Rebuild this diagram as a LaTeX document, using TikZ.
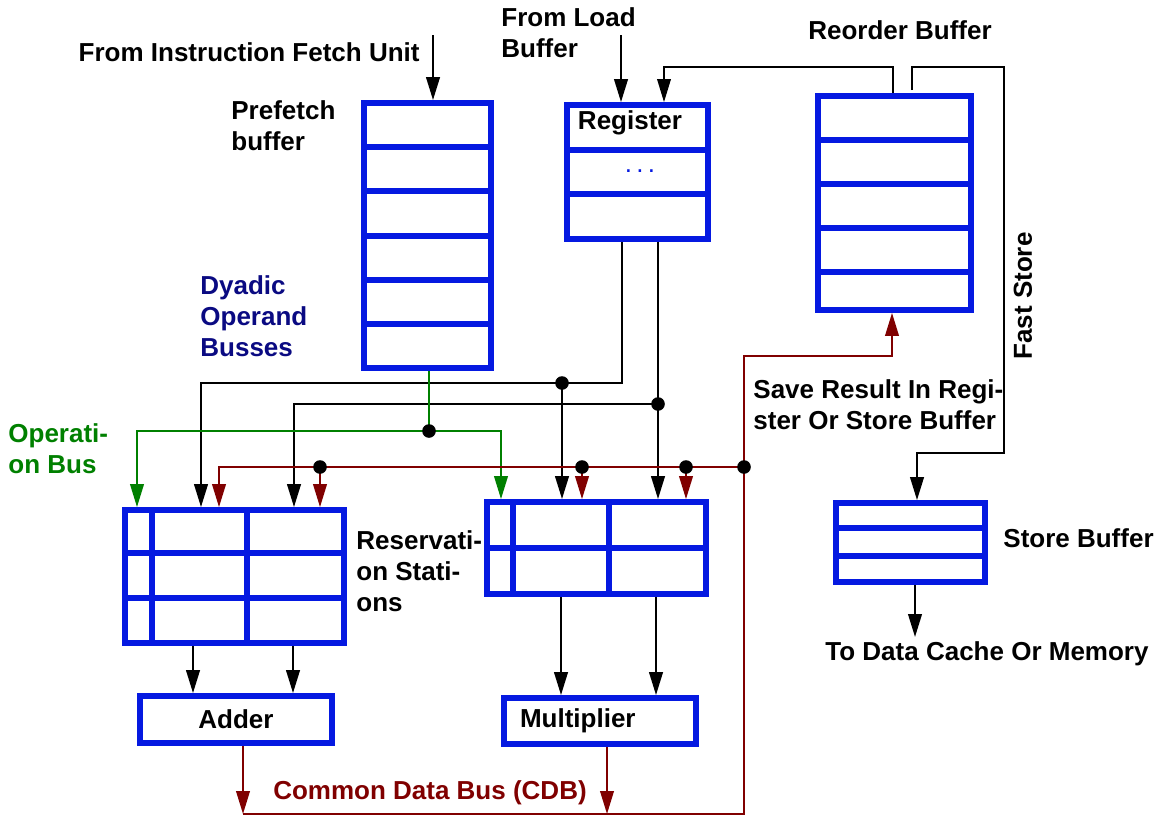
\documentclass[tikz,border=0pt]{standalone}
\usepackage{fontspec}
\setmainfont{Liberation Sans}
\usetikzlibrary{arrows.meta}
\definecolor{bufblue}{RGB}{5,25,225}
\definecolor{opgreen}{RGB}{0,128,0}
\definecolor{cdbred}{RGB}{128,0,0}
\definecolor{busnavy}{RGB}{10,10,130}
\begin{document}
\begin{tikzpicture}[x=0.5pt, y=-0.5pt,
  buf/.style={draw=bufblue, line width=2.9pt, inner sep=0pt},
  div/.style={draw=bufblue, line width=2.9pt},
  bus/.style={line width=1.1pt, -{Triangle[length=11.5pt,width=6.8pt]}},
  thinbus/.style={bus, line width=0.8pt},
  opbus/.style={bus, draw=opgreen, line width=1pt},
  cdbus/.style={bus, draw=cdbred, line width=1pt},
  lbl/.style={font=\fontsize{13}{15.5}\selectfont\bfseries, inner sep=0pt, align=left},
  dot/.style={circle, fill=black, inner sep=0pt, minimum size=6.8pt}
]
\useasboundingbox (0,0) rectangle (1155,816);

% Buffers
\node[buf, minimum width=63.5pt, minimum height=132.5pt] (pf) at (427.5,235.5) {};
\foreach \y in {147,191,236,280,324}
  \draw[div] (pf.west |- 0,\y) -- (pf.east |- 0,\y);
\node[buf, minimum width=70.5pt, minimum height=67pt] (reg) at (637.5,172) {};
\foreach \y in {150,194}
  \draw[div] (reg.west |- 0,\y) -- (reg.east |- 0,\y);
\node[buf, minimum width=76.5pt, minimum height=107pt] (rob) at (894.5,203) {};
\foreach \y in {140,184,228,272}
  \draw[div] (rob.west |- 0,\y) -- (rob.east |- 0,\y);
\node[buf, minimum width=74.5pt, minimum height=39.5pt] (sb) at (910.5,542.5) {};
\foreach \y in {528,556}
  \draw[div] (sb.west |- 0,\y) -- (sb.east |- 0,\y);

% Reservation stations
\node[buf, minimum width=109.5pt, minimum height=66.5pt] (rsa) at (234.5,576.5) {};
\foreach \x in {152,247}
  \draw[div] (\x,0 |- rsa.north) -- (\x,0 |- rsa.south);
\foreach \y in {553,598}
  \draw[div] (rsa.west |- 0,\y) -- (rsa.east |- 0,\y);
\node[buf, minimum width=109.5pt, minimum height=46pt] (rsm) at (596.5,548) {};
\foreach \x in {513,609}
  \draw[div] (\x,0 |- rsm.north) -- (\x,0 |- rsm.south);
\draw[div] (rsm.west |- 0,548) -- (rsm.east |- 0,548);

% Functional units
\node[buf, lbl, minimum width=96pt, minimum height=23.5pt] (add) at (236,719.5) {Adder};
\node[buf, lbl, minimum width=96pt, minimum height=23pt, text width=80pt] (mul) at (600,721) {Multiplier};

% Labels
\node[lbl, anchor=east] (ifutxt) at (420,52) {From Instruction Fetch Unit};
\node[lbl, anchor=west] (pftxt) at (231,126) {Prefetch\\buffer};
\node[lbl, anchor=west] (ldtxt) at (501,33) {From Load\\Buffer};
\node[lbl] (robtxt) at (900,30) {Reorder Buffer};
\node[lbl] (regtxt) at (630,123) {Register};
\node[font=\fontsize{13}{15.5}\selectfont, text=bufblue, inner sep=0pt] (regdots) at (640,171) {.\,.\,.};
\node[lbl, anchor=west, text=busnavy] (dyadtxt) at (200,316) {Dyadic\\Operand\\Busses};
\node[lbl, anchor=west, text=opgreen] (optxt) at (8,449) {Operati-\\on Bus};
\node[lbl, anchor=west] (rstxt) at (356,571) {Reservati-\\on Stati-\\ons};
\node[lbl, anchor=west] (savetxt) at (753,405) {Save Result In Regi-\\ster Or Store Buffer};
\node[lbl, rotate=90] (fstxt) at (1023,296) {Fast Store};
\node[lbl, anchor=west] (sbtxt) at (1003,538) {Store Buffer};
\node[lbl, anchor=west] (memtxt) at (825,654) {To Data Cache Or Memory};
\node[lbl, text=cdbred] (cdbtxt) at (430,793) {Common Data Bus (CDB)};

% Inputs from fetch unit and load buffer
\coordinate (ifu) at (433,35);
\draw[bus] (ifu) -- (ifu |- pf.north);
\coordinate (ldb) at (621,35);
\draw[bus] (ldb) -- (ldb |- reg.north);

% Reorder buffer back to register, fast store to store buffer
\coordinate (rtap) at (893,67);
\coordinate (rin) at (664,67);
\draw[thinbus] (rtap |- rob.north) -- (rtap) -- (rin) -- (rin |- reg.north);
\coordinate (fs0) at (912,90);
\coordinate (fs1) at (1004,67);
\coordinate (fs2) at (917,453);
\draw[bus] (fs0) |- (fs1) |- (fs2) -- (fs2 |- sb.north);
\coordinate (mem) at (915,637);
\draw[bus] (mem |- sb.south) -- (mem);

% Dyadic operand busses
\coordinate (o1) at (622,383);
\coordinate (o1j) at (562,383);
\coordinate (o1l) at (201,383);
\draw[bus] (o1 |- reg.south) -- (o1) -- (o1l) -- (o1l |- rsa.north);
\draw[bus] (o1j) -- (o1j |- rsm.north);
\node[dot] at (o1j) {};
\coordinate (o2) at (658,404);
\coordinate (o2l) at (294,404);
\draw[bus] (o2 |- reg.south) -- (o2 |- rsm.north);
\draw[bus] (o2) -- (o2l) -- (o2l |- rsa.north);
\node[dot] at (o2) {};

% Operation bus
\coordinate (op) at (429,431);
\coordinate (opl) at (137,431);
\coordinate (opr) at (501,431);
\draw[opbus, -] (op |- pf.south) -- (op);
\draw[opbus] (op) -- (opl) -- (opl |- rsa.north);
\draw[opbus] (op) -- (opr) -- (opr |- rsm.north);
\node[dot] at (op) {};

% Common data bus
\coordinate (cd) at (744,467);
\coordinate (cdl) at (219,467);
\draw[cdbus] (cd) -- (cdl) -- (cdl |- rsa.north);
\foreach \x/\n in {320/rsa, 582/rsm, 686/rsm} {
  \coordinate (t) at (\x,467);
  \draw[cdbus] (t) -- (t |- \n.north);
  \node[dot] at (t) {};
}
\coordinate (cb1) at (243,814);
\coordinate (cb2) at (607,814);
\coordinate (cb3) at (744,814);
\coordinate (cb4) at (892,356);
\draw[cdbus] (cb1 |- add.south) -- (cb1);
\draw[cdbus] (cb2 |- mul.south) -- (cb2);
\draw[cdbus] (cb1) -- (cb3) |- (cb4) -- (cb4 |- rob.south);
\node[dot] at (cd) {};

% Reservation stations to adder and multiplier
\foreach \x in {193,293}
  \draw[bus] (\x,0 |- rsa.south) -- (\x,0 |- add.north);
\foreach \x in {561,656}
  \draw[bus] (\x,0 |- rsm.south) -- (\x,0 |- mul.north);
\end{tikzpicture}
\end{document}
